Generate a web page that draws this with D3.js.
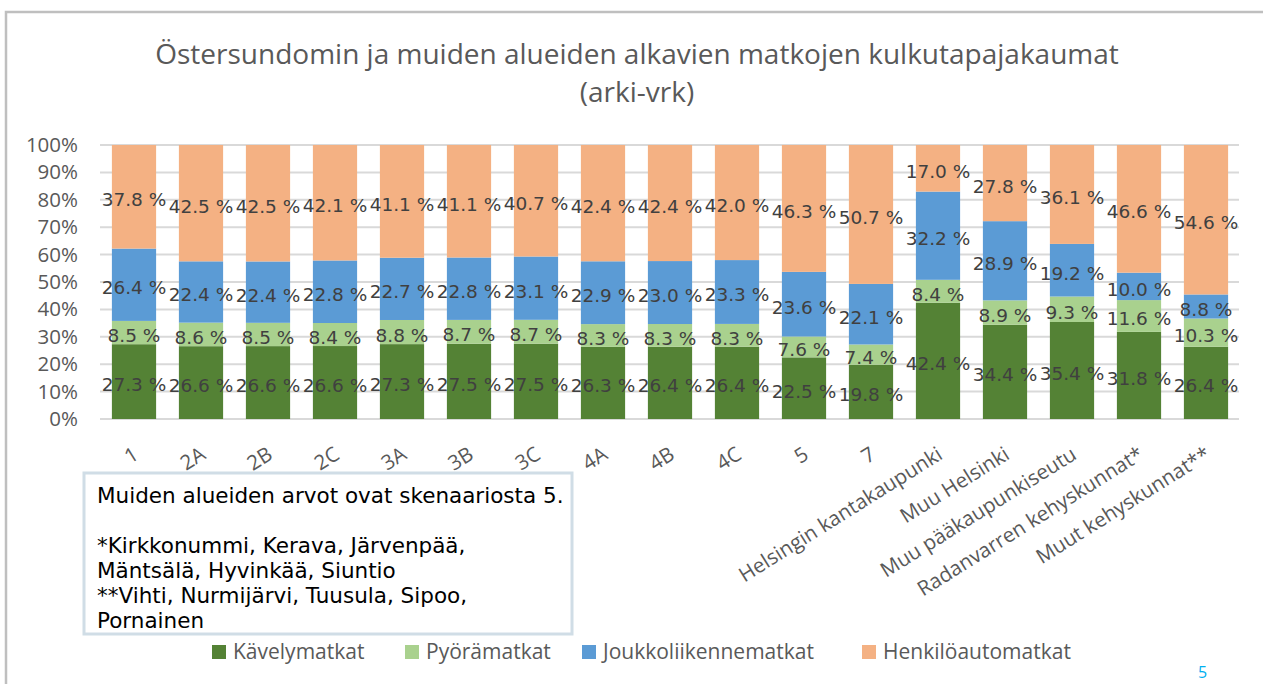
<!DOCTYPE html>
<html>
<head>
<meta charset="utf-8">
<script src="https://cdnjs.cloudflare.com/ajax/libs/d3/7.8.5/d3.min.js"></script>
<style>
	body { margin: 0; background: #fff; }
	svg { display: block; }
</style>
</head>
<body>
<svg id="chart" width="1263" height="684"></svg>
<script>
// data (per cent of trips)
var categories = ['1', '2A', '2B', '2C', '3A', '3B', '3C', '4A', '4B', '4C', '5', '7',
	'Helsingin kantakaupunki', 'Muu Helsinki', 'Muu pääkaupunkiseutu',
	'Radanvarren kehyskunnat*', 'Muut kehyskunnat**'];

var kavely = [27.3, 26.6, 26.6, 26.6, 27.3, 27.5, 27.5, 26.3, 26.4, 26.4, 22.5, 19.8, 42.4, 34.4, 35.4, 31.8, 26.4];
var pyora = [8.5, 8.6, 8.5, 8.4, 8.8, 8.7, 8.7, 8.3, 8.3, 8.3, 7.6, 7.4, 8.4, 8.9, 9.3, 11.6, 10.3];
var joukko = [26.4, 22.4, 22.4, 22.8, 22.7, 22.8, 23.1, 22.9, 23.0, 23.3, 23.6, 22.1, 32.2, 28.9, 19.2, 10.0, 8.8];
var auto = [37.8, 42.5, 42.5, 42.1, 41.1, 41.1, 40.7, 42.4, 42.4, 42.0, 46.3, 50.7, 17.0, 27.8, 36.1, 46.6, 54.6];

var seriesNames = ['Kävelymatkat', 'Pyörämatkat', 'Joukkoliikennematkat', 'Henkilöautomatkat'];
var seriesValues = [kavely, pyora, joukko, auto];
var seriesColors = ['#548235', '#a9d18e', '#5b9bd5', '#f4b183'];

var yTicks = [0, 0.1, 0.2, 0.3, 0.4, 0.5, 0.6, 0.7, 0.8, 0.9, 1];

var noteLines = ['Muiden alueiden arvot ovat skenaariosta 5.', '',
	'*Kirkkonummi, Kerava, Järvenpää,', 'Mäntsälä, Hyvinkää, Siuntio',
	'**Vihti, Nurmijärvi, Tuusula, Sipoo,', 'Pornainen'];

var svg = d3.select('svg#chart');

// outer frame (only top and left edges are visible in the picture)
svg.append('rect')
	.attr('x', 6)
	.attr('y', 12)
	.attr('width', 1300)
	.attr('height', 700)
	.style('fill', 'none')
	.style('stroke', '#bfbfbf')
	.style('stroke-width', '2.5px');

// title
var title = svg.append('text')
	.attr('x', 637)
	.attr('y', 64)
	.style('text-anchor', 'middle')
	.style('font-family', '"Open Sans", sans-serif')
	.style('font-size', '28px')
	.style('fill', '#595959');
title.append('tspan').attr('x', 637).text('Östersundomin ja muiden alueiden alkavien matkojen kulkutapajakaumat');
title.append('tspan').attr('x', 637).attr('dy', 38).text('(arki-vrk)');

// scales
var xScale = d3.scaleBand()
	.domain(categories)
	.range([100.5, 1239.5])
	.paddingInner(0.34)
	.paddingOuter(0.17);

var yScale = d3.scaleLinear()
	.domain([0, 1])
	.range([419, 145]);

// gridlines
svg.append('g')
	.selectAll('line')
	.data(yTicks)
	.enter()
	.append('line')
	.attr('x1', 100)
	.attr('x2', 1239)
	.attr('y1', function (d) { return yScale(d); })
	.attr('y2', function (d) { return yScale(d); })
	.style('stroke', '#d9d9d9')
	.style('stroke-width', '2px');

// y axis
var yAxis = d3.axisLeft(yScale)
	.tickValues(yTicks)
	.tickSize(0)
	.tickPadding(0)
	.tickFormat(d3.format('.0%'));

var yG = svg.append('g')
	.attr('transform', 'translate(78,0)')
	.call(yAxis);
yG.select('.domain').remove();
yG.selectAll('text')
	.style('font-family', '"Open Sans", sans-serif')
	.style('font-size', '20.5px')
	.style('fill', '#595959');

// stack the series, normalised to 100 %
var rows = categories.map(function (c, i) {
	var row = { cat: c };
	seriesNames.forEach(function (s, j) {
		row[s] = seriesValues[j][i];
	});
	return row;
});

var stack = d3.stack()
	.keys(seriesNames)
	.offset(d3.stackOffsetExpand);
var layers = stack(rows);

var layerG = svg.append('g')
	.selectAll('g.layer')
	.data(layers)
	.enter()
	.append('g')
	.attr('class', 'layer')
	.style('fill', function (d, i) { return seriesColors[i]; });

layerG.selectAll('rect')
	.data(function (d) { return d; })
	.enter()
	.append('rect')
	.attr('x', function (d) { return xScale(d.data.cat); })
	.attr('width', xScale.bandwidth())
	.attr('y', function (d) { return yScale(d[1]); })
	.attr('height', function (d) { return yScale(d[0]) - yScale(d[1]); });

// data labels
var labelG = svg.append('g')
	.selectAll('g.labels')
	.data(layers)
	.enter()
	.append('g')
	.attr('class', 'labels');

labelG.selectAll('text')
	.data(function (layer) {
		return layer.map(function (d) {
			return { seg: d, value: d.data[layer.key] };
		});
	})
	.enter()
	.append('text')
	.attr('x', function (d) { return xScale(d.seg.data.cat) + xScale.bandwidth() / 2; })
	.attr('y', function (d) { return (yScale(d.seg[0]) + yScale(d.seg[1])) / 2 + 3; })
	.attr('dy', '0.35em')
	.style('text-anchor', 'middle')
	.style('font-family', '"DejaVu Sans", sans-serif')
	.style('font-size', '18.5px')
	.style('fill', '#404040')
	.text(function (d) { return d.value.toFixed(1) + ' %'; });

// x axis labels, rotated
svg.append('g')
	.selectAll('text')
	.data(categories)
	.enter()
	.append('text')
	.attr('transform', function (d) {
		return 'translate(' + (xScale(d) + xScale.bandwidth() / 2 + 6) + ',458) rotate(-32)';
	})
	.style('text-anchor', 'end')
	.style('font-family', '"Open Sans", sans-serif')
	.style('font-size', '20.5px')
	.style('fill', '#595959')
	.text(function (d) { return d; });

// note box
svg.append('rect')
	.attr('x', 84)
	.attr('y', 473)
	.attr('width', 488)
	.attr('height', 161)
	.style('fill', '#fff')
	.style('stroke', '#d0dde6')
	.style('stroke-width', '3px');

svg.append('g')
	.selectAll('text')
	.data(noteLines)
	.enter()
	.append('text')
	.attr('x', 97)
	.attr('y', function (d, i) { return 503 + i * 25; })
	.style('font-family', '"DejaVu Sans", sans-serif')
	.style('font-size', '21.5px')
	.style('fill', '#000')
	.text(function (d) { return d; });

// legend
var legendX = [212, 405, 582, 862];
var legend = svg.append('g')
	.selectAll('g.legend')
	.data(seriesNames)
	.enter()
	.append('g')
	.attr('class', 'legend')
	.attr('transform', function (d, i) { return 'translate(' + legendX[i] + ',645)'; });

legend.append('rect')
	.attr('width', 14)
	.attr('height', 14)
	.style('fill', function (d, i) { return seriesColors[i]; });

legend.append('text')
	.attr('x', 21)
	.attr('y', 14)
	.style('font-family', '"Open Sans", sans-serif')
	.style('font-size', '21px')
	.style('fill', '#595959')
	.text(function (d) { return d; });

// page number
svg.append('text')
	.attr('x', 1198)
	.attr('y', 678)
	.style('font-family', '"Open Sans", sans-serif')
	.style('font-size', '16px')
	.style('fill', '#00b0f0')
	.text('5');
</script>
</body>
</html>
